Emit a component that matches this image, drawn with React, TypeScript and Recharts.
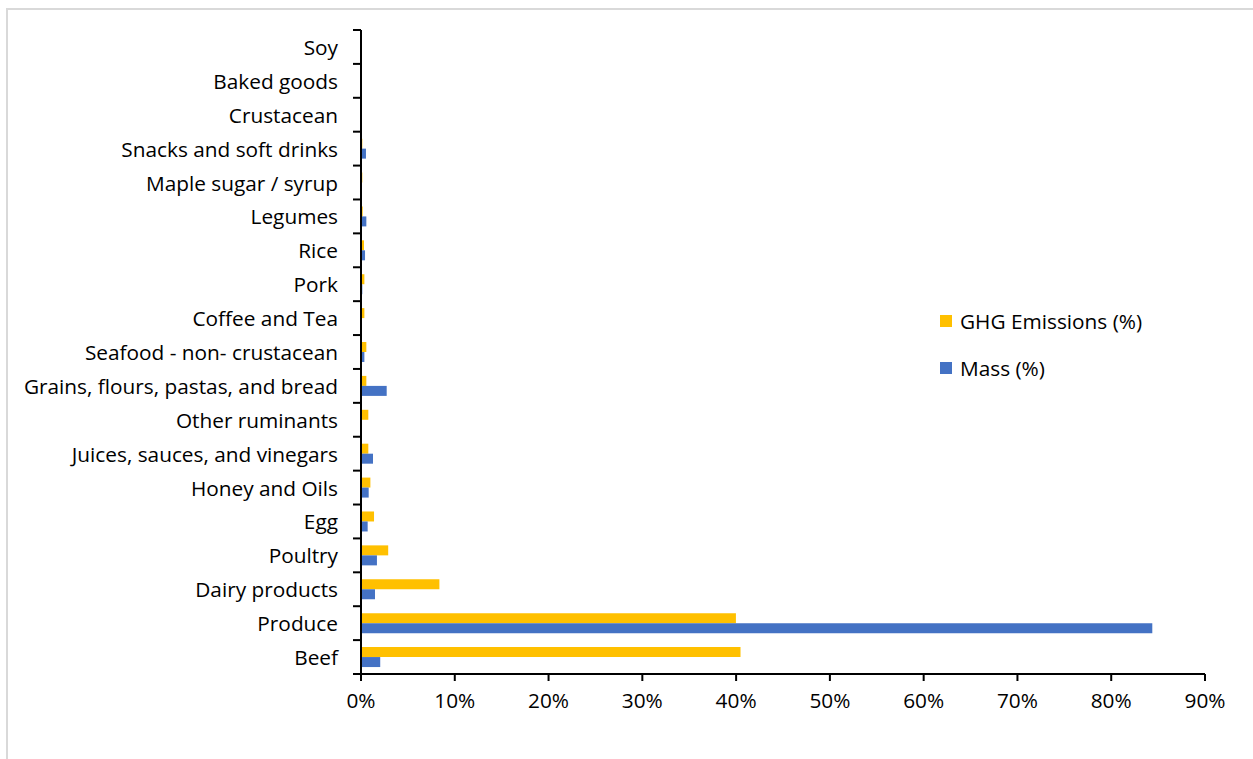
import React from "react";
import { BarChart, Bar, XAxis, YAxis, Legend } from "recharts";

const categories = [
  "Soy",
  "Baked goods",
  "Crustacean",
  "Snacks and soft drinks",
  "Maple sugar / syrup",
  "Legumes",
  "Rice",
  "Pork",
  "Coffee and Tea",
  "Seafood - non- crustacean",
  "Grains, flours, pastas, and bread",
  "Other ruminants",
  "Juices, sauces, and vinegars",
  "Honey and Oils",
  "Egg",
  "Poultry",
  "Dairy products",
  "Produce",
  "Beef",
];

const ghgEmissions = [
  0.0002, 0.0002, 0.0004, 0.0014, 0.0014, 0.0018, 0.0032, 0.0036, 0.0036, 0.0057,
  0.0057, 0.0078, 0.0078, 0.01, 0.0139, 0.029, 0.0836, 0.3998, 0.4047,
];

const massShare = [
  0.0007, 0.0002, 0.0, 0.0053, 0.0, 0.0057, 0.0043, 0.0014, 0.0007, 0.0036,
  0.0274, 0.0, 0.0128, 0.0082, 0.0071, 0.017, 0.0149, 0.8438, 0.0205,
];

const xTicks = [0, 0.1, 0.2, 0.3, 0.4, 0.5, 0.6, 0.7, 0.8, 0.9];

const seriesNames = { ghg: "GHG Emissions (%)", mass: "Mass (%)" };
const colors = { ghg: "#FFC000", mass: "#4472C4" };

const data = categories.map((name, i) => ({
  name,
  ghg: ghgEmissions[i],
  mass: massShare[i],
}));

const W = 1253;
const H = 759;
const PLOT_LEFT = 361;
const PLOT_RIGHT = 1205;
const PLOT_TOP = 30;
const PLOT_BOTTOM = 674;
const X_AXIS_H = 30;
const BAND = (PLOT_BOTTOM - PLOT_TOP) / categories.length;
const FONT = "'Open Sans', 'Noto Sans', sans-serif";
const FONT_SIZE = 20.8;

// Category label plus a tick mark on each band boundary
const CategoryTick = (props: any) => {
  const { x, y, payload, index } = props;
  const axisX = PLOT_LEFT;
  return (
    <g>
      {index === 0 && (
        <line x1={axisX - 8} x2={axisX} y1={y - BAND / 2} y2={y - BAND / 2} stroke="#000" strokeWidth={2} />
      )}
      <line x1={axisX - 8} x2={axisX} y1={y + BAND / 2} y2={y + BAND / 2} stroke="#000" strokeWidth={2} />
      <text
        x={x - 15}
        y={y}
        textAnchor="end"
        dominantBaseline="central"
        fontFamily={FONT}
        fontSize={FONT_SIZE}
        fill="#000"
      >
        {payload.value}
      </text>
    </g>
  );
};

const PercentTick = (props: any) => {
  const { x, y, payload } = props;
  return (
    <text
      x={x}
      y={y + 17}
      textAnchor="middle"
      dominantBaseline="central"
      fontFamily={FONT}
      fontSize={FONT_SIZE}
      fill="#000"
    >
      {`${Math.round(payload.value * 100)}%`}
    </text>
  );
};

const LegendContent = () => (
  <div style={{ fontFamily: FONT, fontSize: FONT_SIZE, color: "#000" }}>
    {(["ghg", "mass"] as const).map((k, i) => (
      <div
        key={k}
        style={{ display: "flex", alignItems: "center", height: 24, marginTop: i === 0 ? 0 : 23 }}
      >
        <span
          style={{ display: "inline-block", width: 12, height: 12, background: colors[k], marginRight: 8 }}
        />
        <span>{seriesNames[k]}</span>
      </div>
    ))}
  </div>
);

export default function App() {
  return (
    <div style={{ position: "absolute", left: 0, top: 0, width: W, height: H, overflow: "hidden", background: "#fff" }}>
      <div
        style={{
          position: "absolute",
          left: 6,
          top: 8,
          width: W + 20,
          height: H + 20,
          border: "2px solid #d9d9d9",
          boxSizing: "border-box",
        }}
      />
      <div style={{ position: "absolute", left: 0, top: 0 }}>
        <BarChart
          width={W}
          height={H}
          data={data}
          layout="vertical"
          margin={{ top: PLOT_TOP, right: W - PLOT_RIGHT, bottom: H - PLOT_BOTTOM - X_AXIS_H, left: 0 }}
          barCategoryGap="20.5%"
          barGap={0}
        >
          <XAxis
            type="number"
            domain={[0, 0.9]}
            ticks={xTicks}
            interval={0}
            height={X_AXIS_H}
            axisLine={{ stroke: "#000", strokeWidth: 2 }}
            tickLine={{ stroke: "#000", strokeWidth: 2 }}
            tickSize={7}
            tick={<PercentTick />}
            allowDataOverflow
          />
          <YAxis
            type="category"
            dataKey="name"
            width={PLOT_LEFT}
            interval={0}
            axisLine={{ stroke: "#000", strokeWidth: 2 }}
            tickLine={false}
            tick={<CategoryTick />}
          />
          <Legend
            layout="vertical"
            verticalAlign="middle"
            align="center"
            content={<LegendContent />}
            wrapperStyle={{ left: 940, top: 309, width: 280 }}
          />
          <Bar dataKey="ghg" name={seriesNames.ghg} fill={colors.ghg} isAnimationActive={false} />
          <Bar dataKey="mass" name={seriesNames.mass} fill={colors.mass} isAnimationActive={false} />
        </BarChart>
      </div>
    </div>
  );
}
